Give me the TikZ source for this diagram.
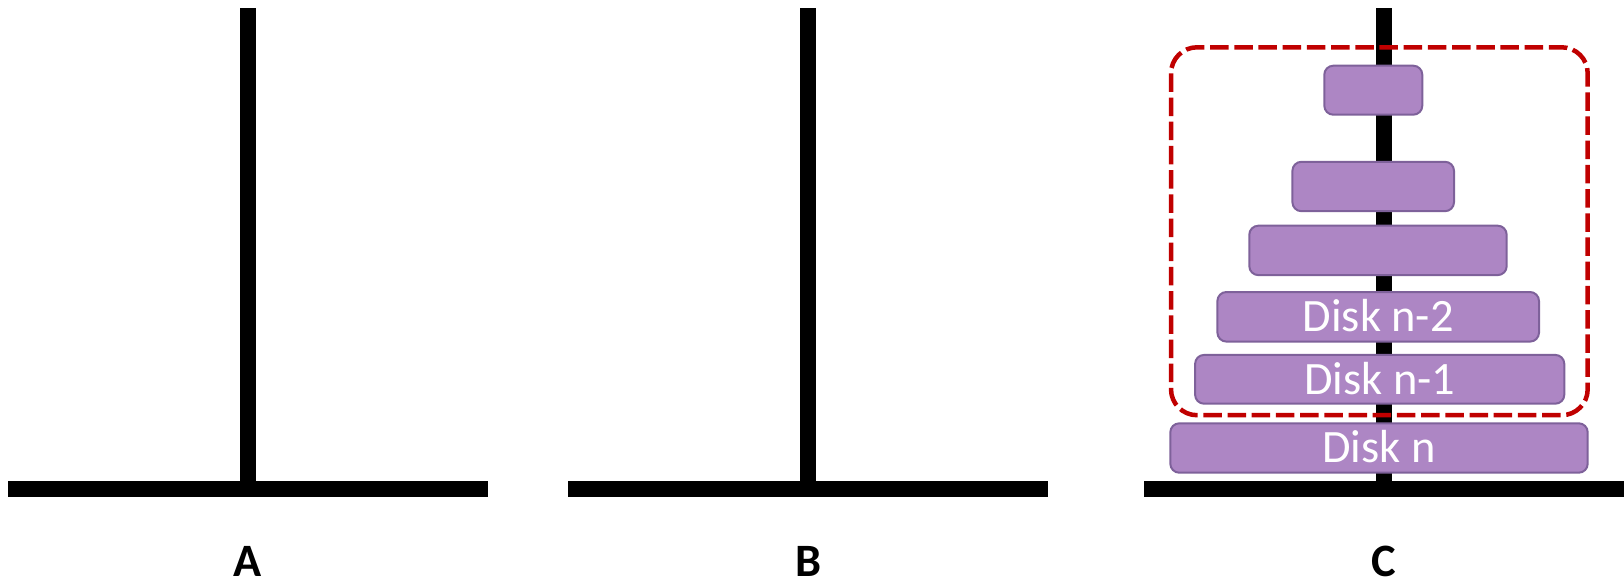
\documentclass[tikz,border=0pt]{standalone}
\usepackage{fontspec}
\setmainfont{Carlito}
\begin{document}
\begin{tikzpicture}[x=0.5pt,y=-0.5pt,
  pole/.style={line width=8pt,black},
  disk/.style={draw=diskborder,fill=diskfill,line width=1pt,rounded corners=4.5pt,
    inner sep=0pt,text=white,font=\fontsize{23.2}{27}\selectfont,
    text height=14.7pt,text depth=0pt},
  lbl/.style={anchor=base,font=\fontsize{23.2}{27}\selectfont\bfseries},
  group/.style={draw=groupred,line width=2.25pt,rounded corners=13pt,
    dash pattern=on 9.25pt off 2.85pt}]
\definecolor{diskfill}{HTML}{AD86C4}
\definecolor{diskborder}{HTML}{7E619A}
\definecolor{groupred}{HTML}{C00000}
\useasboundingbox (0,0) rectangle (1624,579);
% bases and poles
\draw[pole] (8,489) -- (488,489);
\draw[pole] (568,489) -- (1048,489);
\draw[pole] (1144,489) -- (1624,489);
\draw[pole] (248,8) -- (248,481);
\draw[pole] (808,8) -- (808,481);
\draw[pole] (1384,8) -- (1384,481);
% labels
\node[lbl] (la) at (248,576) {A};
\node[lbl] (lb) at (808,576) {B};
\node[lbl] (lc) at (1384,576) {C};
% disks
\node[disk,minimum width=49pt,minimum height=24.5pt] (d1) at (1373.3,90.2) {};
\node[disk,minimum width=80.8pt,minimum height=24.7pt] (d2) at (1373.2,186.5) {};
\node[disk,minimum width=128.7pt,minimum height=24.7pt] (d3) at (1378,250.4) {};
\node[disk,minimum width=160.8pt,minimum height=24.8pt] (d4) at (1378.2,316.8) {Disk n-2};
\node[disk,minimum width=184.6pt,minimum height=24.4pt] (d5) at (1379.7,379.3) {Disk n-1};
\node[disk,minimum width=208.7pt,minimum height=24.7pt] (d6) at (1379,448) {Disk n};
% dashed group box
\draw[group] (1171,47.3) rectangle (1587.7,415.2);
\end{tikzpicture}
\end{document}
